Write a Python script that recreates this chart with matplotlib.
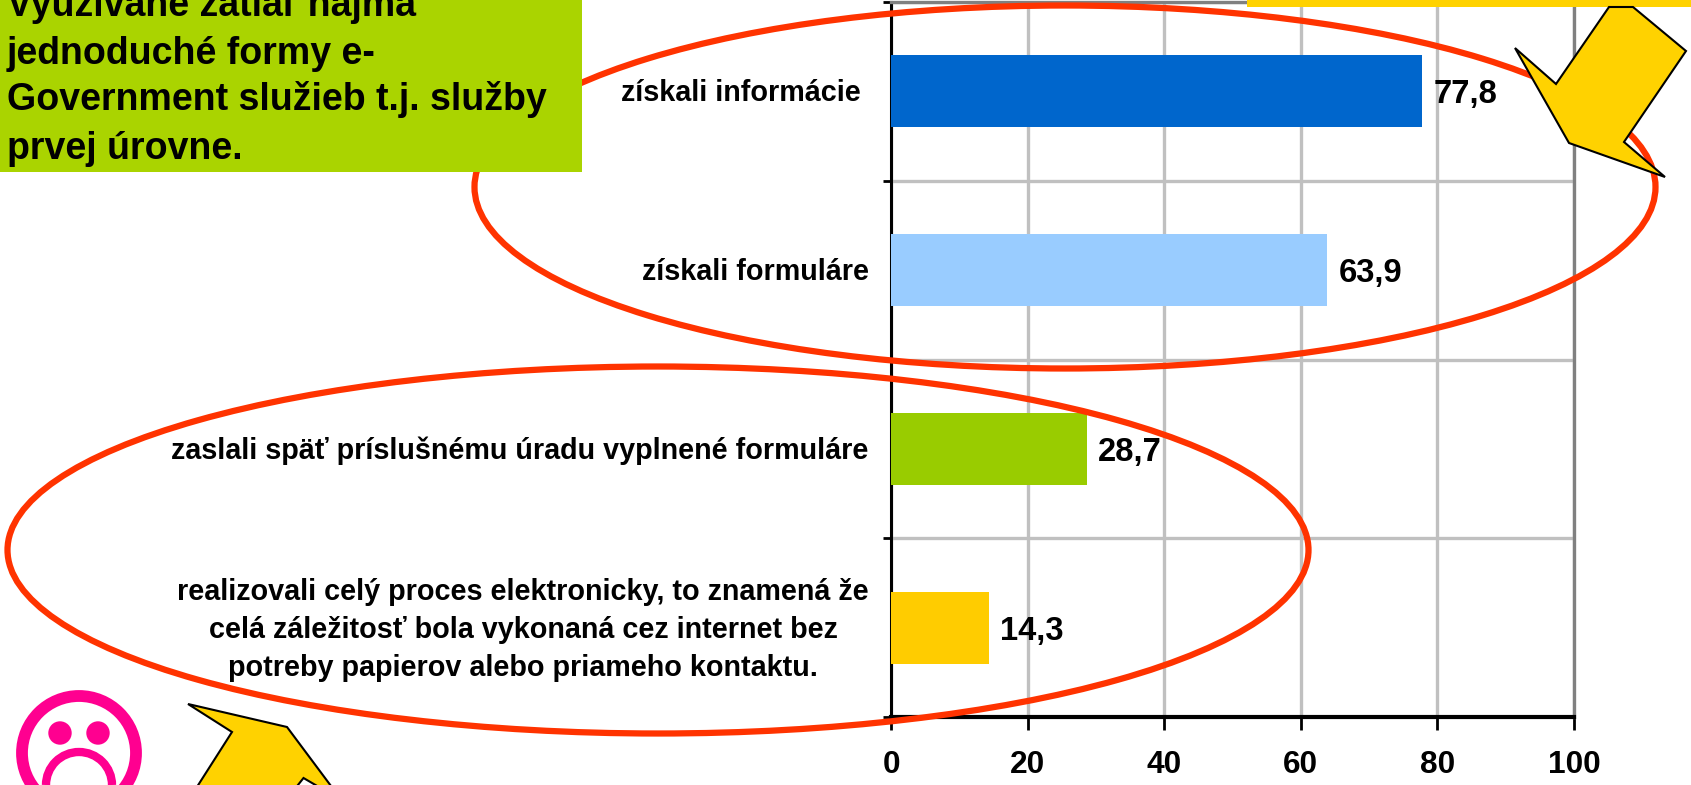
#!/usr/bin/env python3
"""Bar chart of e-Government service use with slide callouts."""

import matplotlib

matplotlib.use("Agg")
import matplotlib.pyplot as plt
from matplotlib.patches import Arc, Circle, Ellipse, Polygon, Rectangle

W, H = 1691, 785

CATEGORIES = [
    "získali informácie ",
    "získali formuláre",
    "zaslali späť príslušnému úradu vyplnené formuláre",
    "realizovali celý proces elektronicky, to znamená že\n"
    "celá záležitosť bola vykonaná cez internet bez\n"
    "potreby papierov alebo priameho kontaktu.",
]
VALUES = [77.8, 63.9, 28.7, 14.3]
VALUE_LABELS = ["77,8", "63,9", "28,7", "14,3"]
BAR_COLORS = ["#0066CC", "#99CCFF", "#99CC00", "#FFCC00"]
X_TICKS = [0, 20, 40, 60, 80, 100]
NOTE_LINES = [
    "Využívané zatiaľ najmä",
    "jednoduché formy e-",
    "Government služieb t.j. služby",
    "prvej úrovne.",
]

plt.rcParams["font.family"] = ["Liberation Sans", "DejaVu Sans"]
plt.rcParams["font.weight"] = "bold"

fig = plt.figure(figsize=(W / 100, H / 100), dpi=100)

# chart area, pixel box from the reference
x0, x1, y_top, y_bot = 891, 1574, 2, 717
ax = fig.add_axes([x0 / W, 1 - y_bot / H, (x1 - x0) / W, (y_bot - y_top) / H])
pos = range(len(VALUES))
ax.barh(pos, VALUES, height=0.404, color=BAR_COLORS, zorder=3)
ax.set_xlim(0, 100)
ax.set_ylim(3.5, -0.5)
ax.set_xticks(X_TICKS)
ax.set_yticks([i - 0.5 for i in range(len(VALUES) + 1)], [""] * (len(VALUES) + 1))
ax.grid(True, color="#C0C0C0", linewidth=2.4, zorder=0)
ax.set_axisbelow(True)
ax.tick_params(axis="x", length=9, width=2, labelsize=22.8, pad=14.5)
ax.tick_params(axis="y", length=6, width=2)
for side in ("top", "right"):
    ax.spines[side].set_color("#808080")
    ax.spines[side].set_linewidth(2.4)
ax.spines["left"].set_linewidth(2.2)
ax.spines["bottom"].set_linewidth(3)

for i, (value, label) in enumerate(zip(VALUES, VALUE_LABELS)):
    ax.annotate(label, (value, i), xytext=(8, -2.5), textcoords="offset points",
                va="center", ha="left", fontsize=23.6, zorder=8)
    ax.annotate(CATEGORIES[i], (0, i), xytext=(-16, -1.5), textcoords="offset points",
                va="center", ha="right", multialignment="center",
                fontsize=20.7, linespacing=1.46, zorder=8)

# overlay in image pixels for the slide shapes
over = fig.add_axes([0, 0, 1, 1], facecolor="none")
over.set_xlim(0, W)
over.set_ylim(H, 0)
over.axis("off")

red = "#FF3300"
over.add_patch(Ellipse((1065, 187), 1181, 363, fill=False, ec=red, lw=4.5, zorder=2))
over.add_patch(Ellipse((658, 550), 1301, 367, fill=False, ec=red, lw=4.5, zorder=2))

over.add_patch(Rectangle((0, -5), 582, 176.5, fc="#AAD400", ec="none", zorder=3))
for line, y in zip(NOTE_LINES, [6, 54, 100, 149]):
    over.text(7, y, line, fontsize=27, va="center", ha="left", zorder=4, clip_on=True)

over.add_patch(Rectangle((1247, -5), 450, 12, fc="#FFD200", ec="none", zorder=3))
arrow_top = [(1515, 48), (1556, 84), (1609, 7), (1633, 7), (1686, 51),
             (1624, 142), (1665, 177), (1569, 143)]
over.add_patch(Polygon(arrow_top, closed=True, fc="#FFD200", ec="black", lw=1.5, zorder=4))
arrow_low = [(188, 704), (232, 732), (195, 790), (294, 790), (303.5, 778),
             (324, 790), (334, 790), (287, 727)]
over.add_patch(Polygon(arrow_low, closed=True, fc="#FFD200", ec="black", lw=1.5, zorder=4))

pink = "#FF0090"
over.add_patch(Circle((79, 753), 57, fill=False, ec=pink, lw=8.5, zorder=4))
over.add_patch(Circle((60, 733), 11.7, fc=pink, ec="none", zorder=4))
over.add_patch(Circle((98, 733), 11.7, fc=pink, ec="none", zorder=4))
over.add_patch(Arc((79, 785), 66, 66, theta1=180, theta2=360, ec=pink, lw=6, zorder=4))

fig.savefig("out.png", dpi=100)
